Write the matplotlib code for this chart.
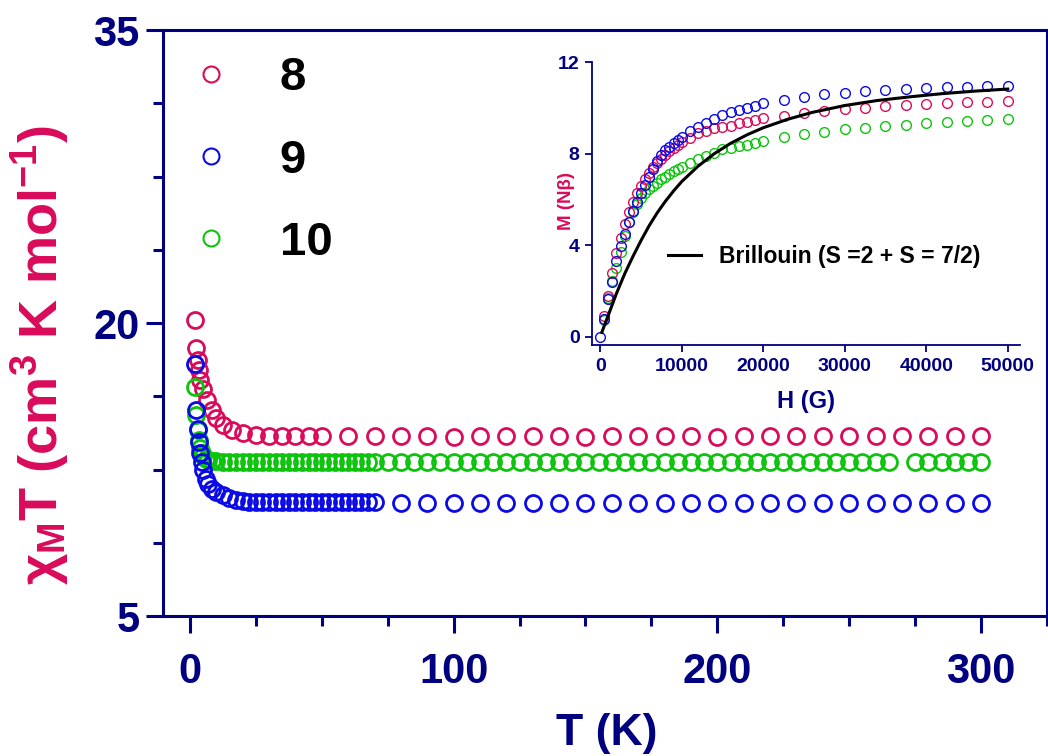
import matplotlib
matplotlib.use("Agg")
import matplotlib.pyplot as plt
from matplotlib.lines import Line2D
from matplotlib.ticker import AutoMinorLocator

# --- chi_M T vs T (main panel) ---
red_T = [2, 2.5, 3, 3.5, 4, 5, 6.5, 8.5, 10, 12.5, 16, 20, 25, 30, 35, 40, 45, 50,
         60, 70, 80, 90, 100, 110, 120, 130, 140, 150, 160, 170, 180, 190, 200,
         210, 220, 230, 240, 250, 260, 270, 280, 290, 300]
red_chi = [20.15, 18.7, 18.1, 17.6, 17.1, 16.6, 16.05, 15.55, 15.12, 14.78, 14.52, 14.35,
           14.27, 14.2, 14.2, 14.2, 14.2, 14.2, 14.2, 14.2, 14.2, 14.2, 14.18, 14.2,
           14.2, 14.2, 14.2, 14.18, 14.2, 14.2, 14.2, 14.2, 14.18, 14.2, 14.2, 14.2,
           14.2, 14.2, 14.2, 14.2, 14.2, 14.2, 14.2]

blue_T = [2, 2.5, 3, 3.5, 4, 4.5, 5, 6, 7, 8.5, 10, 12.5, 15, 17.5, 20, 22.5, 25,
          27.5, 30, 32.5, 35, 37.5, 40, 42.5, 45, 47.5, 50, 52.5, 55, 57.5, 60,
          62.5, 65, 67.5, 70, 80, 90, 100, 110, 120, 130, 140, 150, 160, 170, 180,
          190, 200, 210, 220, 230, 240, 250, 260, 270, 280, 290, 300]
blue_chi = [17.9, 15.55, 14.55, 13.9, 13.35, 12.9, 12.45, 12.0, 11.75, 11.5, 11.35,
            11.2, 11.05, 10.95, 10.9, 10.85, 10.83, 10.82, 10.82, 10.82, 10.82, 10.82,
            10.82, 10.82, 10.82, 10.82, 10.82, 10.82, 10.82, 10.82, 10.82, 10.82,
            10.82, 10.82, 10.82, 10.8, 10.8, 10.8, 10.78, 10.8, 10.8, 10.8, 10.8,
            10.8, 10.8, 10.8, 10.8, 10.8, 10.8, 10.8, 10.8, 10.8, 10.8, 10.8, 10.8,
            10.8, 10.8, 10.8]

green_T = [2, 2.5, 3, 3.5, 4, 4.5, 5, 6, 7, 8.5, 10, 12.5, 15, 17.5, 20, 22.5, 25,
           27.5, 30, 32.5, 35, 37.5, 40, 42.5, 45, 47.5, 50, 52.5, 55, 57.5, 60,
           62.5, 65, 67.5, 70, 75, 80, 85, 90, 95, 100, 105, 110, 115, 120, 125,
           130, 135, 140, 145, 150, 155, 160, 165, 170, 175, 180, 185, 190, 195,
           200, 205, 210, 215, 220, 225, 230, 235, 240, 245, 250, 255, 260, 265,
           275, 280, 285, 290, 295, 300]
green_chi = [16.7, 15.3, 14.5, 14.0, 13.6, 13.35, 13.2, 13.05, 13.0, 12.95, 12.92,
             12.9, 12.9, 12.9, 12.9, 12.9, 12.9, 12.9, 12.9, 12.9, 12.9, 12.9, 12.9,
             12.9, 12.9, 12.9, 12.9, 12.9, 12.9, 12.9, 12.9, 12.9, 12.9, 12.9, 12.9,
             12.9, 12.9, 12.9, 12.9, 12.9, 12.9, 12.9, 12.9, 12.9, 12.9, 12.9, 12.9,
             12.9, 12.9, 12.9, 12.9, 12.9, 12.9, 12.9, 12.9, 12.9, 12.9, 12.9, 12.9,
             12.9, 12.9, 12.9, 12.9, 12.9, 12.9, 12.9, 12.9, 12.9, 12.9, 12.9, 12.9,
             12.9, 12.9, 12.9, 12.9, 12.9, 12.9, 12.9, 12.9, 12.9]

# --- M vs H (inset) ---
blue_H = [0, 500, 1000, 1500, 2000, 2500, 3000, 3500, 4000, 4500, 5000, 5500, 6000,
          6500, 7000, 7500, 8000, 8500, 9000, 9500, 10000, 11000, 12000, 13000,
          14000, 15000, 16000, 17000, 18000, 19000, 20000, 22500, 25000, 27500,
          30000, 32500, 35000, 37500, 40000, 42500, 45000, 47500, 50000]
blue_M = [0, 0.8, 1.65, 2.4, 3.3, 3.95, 4.5, 5.0, 5.5, 5.9, 6.3, 6.65, 7.0, 7.35,
          7.7, 7.95, 8.15, 8.3, 8.45, 8.6, 8.74, 9.0, 9.18, 9.35, 9.51, 9.67, 9.8,
          9.9, 10.0, 10.1, 10.2, 10.34, 10.46, 10.59, 10.66, 10.73, 10.78, 10.82,
          10.88, 10.89, 10.92, 10.95, 10.96]

red_H = [500, 1000, 1500, 2000, 2500, 3000, 3500, 4000, 4500, 5000, 5500, 6000, 6500,
         7000, 7500, 8000, 8500, 9000, 9500, 10000, 11000, 12000, 13000, 14000,
         15000, 16000, 17000, 18000, 19000, 20000, 22500, 25000, 27500, 30000,
         32500, 35000, 37500, 40000, 42500, 45000, 47500, 50000]
red_M = [0.9, 1.8, 2.8, 3.65, 4.3, 4.95, 5.45, 5.9, 6.27, 6.58, 6.88, 7.15, 7.4, 7.6,
         7.78, 7.95, 8.1, 8.23, 8.38, 8.5, 8.67, 8.89, 8.99, 9.1, 9.18, 9.22, 9.32,
         9.4, 9.47, 9.54, 9.64, 9.79, 9.86, 9.93, 10.0, 10.06, 10.11, 10.15, 10.2,
         10.24, 10.27, 10.3]

green_H = red_H
green_M = [0.75, 1.7, 2.45, 3.0, 3.7, 4.4, 5.0, 5.45, 5.8, 6.08, 6.27, 6.45, 6.58,
           6.7, 6.88, 7.0, 7.12, 7.25, 7.35, 7.43, 7.58, 7.75, 7.9, 8.04, 8.19, 8.26,
           8.33, 8.38, 8.48, 8.56, 8.71, 8.84, 8.96, 9.06, 9.13, 9.2, 9.26, 9.32,
           9.38, 9.44, 9.48, 9.51]

brill_H = [200, 1000, 2000, 3000, 4000, 5000, 6000, 7000, 8000, 9000, 10000, 12000,
           14000, 16000, 18000, 20000, 23000, 26000, 30000, 34000, 38000, 42000,
           46000, 50000]
brill_M = [0.2, 0.95, 1.9, 2.75, 3.5, 4.2, 4.85, 5.42, 5.92, 6.37, 6.78, 7.45, 8.0,
           8.45, 8.82, 9.13, 9.5, 9.8, 10.1, 10.32, 10.48, 10.62, 10.73, 10.82]

labels = ["8", "9", "10"]

RED = "#D90B5A"
BLUE = "#0A0AE6"
GREEN = "#0CC40C"
NAVY = "#000080"

plt.rcParams["font.family"] = ["Liberation Sans", "DejaVu Sans"]
plt.rcParams["font.weight"] = "bold"
plt.rcParams["mathtext.fontset"] = "custom"
plt.rcParams["mathtext.rm"] = "Liberation Sans:bold"
plt.rcParams["mathtext.it"] = "Liberation Sans:bold"
plt.rcParams["mathtext.bf"] = "Liberation Sans:bold"

W, H = 1048, 756
fig = plt.figure(figsize=(W / 100, H / 100), dpi=100)

# main axes: spans x 163..1047 px, y 30..616 px
ax = fig.add_axes([163 / W, (H - 616) / H, (1047 - 163) / W, (616 - 30) / H])

mk = dict(marker="o", linestyle="none", mfc="none", ms=11.5, mew=2.0)
ax.plot(red_T, red_chi, mec=RED, **mk)
ax.plot(green_T, green_chi, mec=GREEN, **mk)
ax.plot(blue_T, blue_chi, mec=BLUE, **mk)

ax.set_xlim(-10.2, 325)
ax.set_ylim(5, 35)
ax.set_xticks([0, 100, 200, 300])
ax.set_yticks([5, 20, 35])
ax.xaxis.set_minor_locator(AutoMinorLocator(4))
ax.yaxis.set_minor_locator(AutoMinorLocator(4))
for s in ax.spines.values():
    s.set_color(NAVY)
    s.set_linewidth(2.2)
ax.tick_params(which="both", direction="out", color=NAVY, width=2.2,
               top=False, right=False)
ax.tick_params(which="major", length=12, labelsize=30, labelcolor=NAVY)
ax.tick_params(axis="x", which="major", pad=14)
ax.tick_params(axis="y", which="major", pad=5)
ax.tick_params(which="minor", length=7)

ax.set_xlabel("T (K)", fontsize=32, color=NAVY, fontweight="bold")
ax.xaxis.set_label_coords(0.502, -0.165)
ax.set_ylabel("χ$_{M}$T (cm$^{3}$ K mol$^{-1}$)", fontsize=39, color=RED,
              fontweight="bold")
ax.yaxis.set_label_coords(-0.104, 0.445)

handles = [Line2D([], [], marker="o", linestyle="none", mfc="none", ms=11.5,
                  mew=1.5, mec=c) for c in (RED, BLUE, GREEN)]
ax.legend(handles, labels, loc="upper left", bbox_to_anchor=(0.028, 0.955),
          frameon=False, fontsize=34, handlelength=1.0, handletextpad=0.95,
          labelspacing=0.81, borderpad=0, borderaxespad=0)

# inset
ins = fig.add_axes([592 / W, (H - 345) / H, (1020 - 592) / W, (345 - 62) / H])
ins.patch.set_alpha(0)
mk2 = dict(marker="o", linestyle="none", mfc="none", ms=7, mew=1.0)
ins.plot(green_H, green_M, mec=GREEN, **mk2)
ins.plot(red_H, red_M, mec=RED, **mk2)
ins.plot(blue_H, blue_M, mec=BLUE, **mk2)
ins.plot(brill_H, brill_M, color="black", lw=2.2,
         label="Brillouin (S =2 + S = 7/2)")
ins.set_xlim(-1000, 51500)
ins.set_ylim(-0.35, 12)
ins.set_xticks([0, 10000, 20000, 30000, 40000, 50000])
ins.set_yticks([0, 4, 8, 12])
ins.spines["top"].set_visible(False)
ins.spines["right"].set_visible(False)
for s in ("left", "bottom"):
    ins.spines[s].set_color(NAVY)
    ins.spines[s].set_linewidth(1.3)
ins.tick_params(direction="out", color=NAVY, width=1.3, length=5,
                labelsize=14, labelcolor=NAVY, pad=4)
ins.set_xlabel("H (G)", fontsize=17, color=NAVY, fontweight="bold")
ins.xaxis.set_label_coords(0.5, -0.16)
ins.set_ylabel("M (Nβ)", fontsize=13.5, color=RED, fontweight="bold")
ins.yaxis.set_label_coords(-0.04, 0.51)
ins.legend(loc="center left", bbox_to_anchor=(0.178, 0.314), frameon=False,
           prop={"size": 16.5, "weight": "bold"}, handlelength=1.45,
           handletextpad=0.75, borderpad=0, borderaxespad=0)

fig.savefig("out.png", dpi=100)
